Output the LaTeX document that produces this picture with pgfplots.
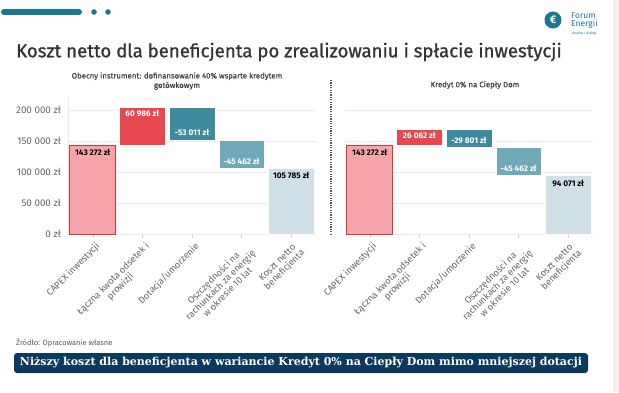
\documentclass[border=0pt]{standalone}
\usepackage{pgfplots}
\pgfplotsset{compat=1.18}
\usepackage{fontspec}
\setmainfont{Fira Sans}
\newfontfamily\titlefont{Fira Sans}[FakeBold=0.9]
\newfontfamily\subfont{Fira Sans}[FakeBold=0.3]
\newfontfamily\bannerfont{DejaVu Serif}
\definecolor{teal1}{HTML}{1B7895}
\definecolor{capexfill}{HTML}{F5A5A9}
\definecolor{capexdraw}{HTML}{D4383F}
\definecolor{odsetki}{HTML}{E8474F}
\definecolor{dotacja}{HTML}{3E8BA0}
\definecolor{oszcz}{HTML}{70A9B8}
\definecolor{koszt}{HTML}{CFE1E7}
\definecolor{navy}{HTML}{0B3A5C}
\definecolor{gridc}{HTML}{EBEBEB}
\definecolor{ticktxt}{HTML}{666666}
\tikzset{
  wlbl/.style={font=\fontsize{8.2}{9}\selectfont\bfseries, inner sep=1pt},
  wcap/.style={fill=capexfill, draw=capexdraw, line width=1pt},
  wods/.style={fill=odsetki, draw=white, line width=0.5pt},
  wdot/.style={fill=dotacja, draw=white, line width=0.5pt},
  wosz/.style={fill=oszcz, draw=white, line width=0.5pt},
  wkos/.style={fill=koszt, draw=white, line width=0.5pt},
}
\pgfplotsset{
  wfall/.style={
    scale only axis, width=248pt, height=136.4pt,
    xmin=-0.5, xmax=4.5, ymin=0, ymax=220000,
    clip=false,
    xtick={0,1,2,3,4},
    xticklabels={CAPEX inwestycji,{Łączna kwota odsetek i\\prowizji},Dotacja/umorzenie,{Oszczędności na\\rachunkach za energię\\w okresie 10 lat},{Koszt netto\\beneficjenta}},
    xticklabel style={rotate=45, anchor=north east, align=center, font=\fontsize{9.3}{10}\selectfont, text=ticktxt, inner sep=1pt, yshift=-3pt},
    ytick={0,50000,100000,150000,200000},
    ymajorgrids, grid style={gridc, line width=0.6pt},
    tick align=outside, major tick length=4pt,
    xtick style={draw=gridc!70!gray, line width=0.5pt},
    ytick style={draw=none},
    axis x line*=bottom, axis y line*=left,
    x axis line style={draw=gridc, line width=0.8pt, -},
    scaled y ticks=false,
  },
}
\begin{document}
\begin{tikzpicture}
\path[use as bounding box, fill=white] (0pt,0pt) rectangle (619pt,392pt);
\fill[gray!12] (613pt,0pt) rectangle (619pt,392pt);
% header
\draw[teal1, line width=6pt, line cap=round] (4pt,380pt) -- (79pt,380pt);
\fill[teal1] (94pt,380pt) circle (2.8pt);
\fill[teal1] (108pt,380pt) circle (2.8pt);
% logo
\fill[teal1] (553pt,372pt) circle (8.5pt);
\node[text=white, font=\fontsize{11}{11}\selectfont\bfseries] at (553pt,372pt) {€};
\node[anchor=west, text=teal1, font=\fontsize{8.5}{8.5}\selectfont, inner sep=0pt] at (571pt,376pt) {Forum};
\node[anchor=west, text=teal1, font=\fontsize{8.5}{8.5}\selectfont, inner sep=0pt] at (571pt,368pt) {Energii};
\node[anchor=west, text=teal1, font=\fontsize{3.5}{3.5}\selectfont, inner sep=0pt] at (572pt,358pt) {Analizy i dialog};
% title
\node[anchor=west, inner sep=0pt, text=black!80, font=\fontsize{18.6}{20}\titlefont] at (16pt,340pt) {Koszt netto dla beneficjenta po zrealizowaniu i spłacie inwestycji};
% subtitles
\node[align=center, inner sep=0pt, text=black!75, font=\fontsize{7.8}{9.5}\subfont] at (177pt,311pt) {Obecny instrument: dofinansowanie 40\% wsparte kredytem\\gotówkowym};
\node[inner sep=0pt, text=black!75, font=\fontsize{7.8}{9.5}\subfont] at (475pt,307pt) {Kredyt 0\% na Ciepły Dom};
% separator
\draw[black!65, line width=1.3pt, dash pattern=on 1.2pt off 1.2pt] (331pt,312pt) -- (331pt,156pt);

% left panel
\begin{axis}[wfall, at={(68pt,158pt)}, anchor=south west,
  y axis line style={draw=gridc, line width=0.8pt, -},
  yticklabels={0 zł,50 000 zł,100 000 zł,150 000 zł,200 000 zł},
  yticklabel style={font=\fontsize{9.8}{10}\selectfont, text=ticktxt, inner sep=1pt, xshift=-2pt}]
\addplot[wcap] coordinates {(-0.46,0) (0.46,0) (0.46,143272) (-0.46,143272)} -- cycle;
\addplot[wods] coordinates {(0.54,143272) (1.46,143272) (1.46,204258) (0.54,204258)} -- cycle;
\addplot[wdot] coordinates {(1.54,151247) (2.46,151247) (2.46,204258) (1.54,204258)} -- cycle;
\addplot[wosz] coordinates {(2.54,105785) (3.46,105785) (3.46,151247) (2.54,151247)} -- cycle;
\addplot[wkos] coordinates {(3.54,0) (4.46,0) (4.46,105785) (3.54,105785)} -- cycle;
\node[wlbl, anchor=north, text=black, yshift=-3pt] at (axis cs:0,143272) {143 272 zł};
\node[wlbl, anchor=north, text=white, yshift=-2pt] at (axis cs:1,204258) {60 986 zł};
\node[wlbl, anchor=south, text=white, yshift=3pt] at (axis cs:2,151247) {-53 011 zł};
\node[wlbl, anchor=south, text=white, yshift=3pt] at (axis cs:3,105785) {-45 462 zł};
\node[wlbl, anchor=north, text=black, yshift=-3pt] at (axis cs:4,105785) {105 785 zł};
\end{axis}

% right panel
\begin{axis}[wfall, at={(345pt,158pt)}, anchor=south west,
  y axis line style={draw=none},
  yticklabels={}]
\addplot[wcap] coordinates {(-0.46,0) (0.46,0) (0.46,143272) (-0.46,143272)} -- cycle;
\addplot[wods] coordinates {(0.54,143272) (1.46,143272) (1.46,169334) (0.54,169334)} -- cycle;
\addplot[wdot] coordinates {(1.54,139533) (2.46,139533) (2.46,169334) (1.54,169334)} -- cycle;
\addplot[wosz] coordinates {(2.54,94071) (3.46,94071) (3.46,139533) (2.54,139533)} -- cycle;
\addplot[wkos] coordinates {(3.54,0) (4.46,0) (4.46,94071) (3.54,94071)} -- cycle;
\node[wlbl, anchor=north, text=black, yshift=-3pt] at (axis cs:0,143272) {143 272 zł};
\node[wlbl, anchor=north, text=white, yshift=-2pt] at (axis cs:1,169334) {26 062 zł};
\node[wlbl, anchor=south, text=white, yshift=3pt] at (axis cs:2,139533) {-29 801 zł};
\node[wlbl, anchor=south, text=white, yshift=3pt] at (axis cs:3,94071) {-45 462 zł};
\node[wlbl, anchor=north, text=black, yshift=-3pt] at (axis cs:4,94071) {94 071 zł};
\end{axis}

% footer
\node[anchor=west, inner sep=0pt, text=black!65, font=\fontsize{7.5}{8}\selectfont] at (16pt,49pt) {Źródło: Opracowanie własne};
\fill[navy, rounded corners=3pt] (14pt,19pt) rectangle (588pt,39pt);
\node[text=white, inner sep=0pt] at (301pt,29pt) {\resizebox{562pt}{!}{\bannerfont\bfseries Niższy koszt dla beneficjenta w wariancie Kredyt 0\% na Ciepły Dom mimo mniejszej dotacji}};
\end{tikzpicture}
\end{document}
